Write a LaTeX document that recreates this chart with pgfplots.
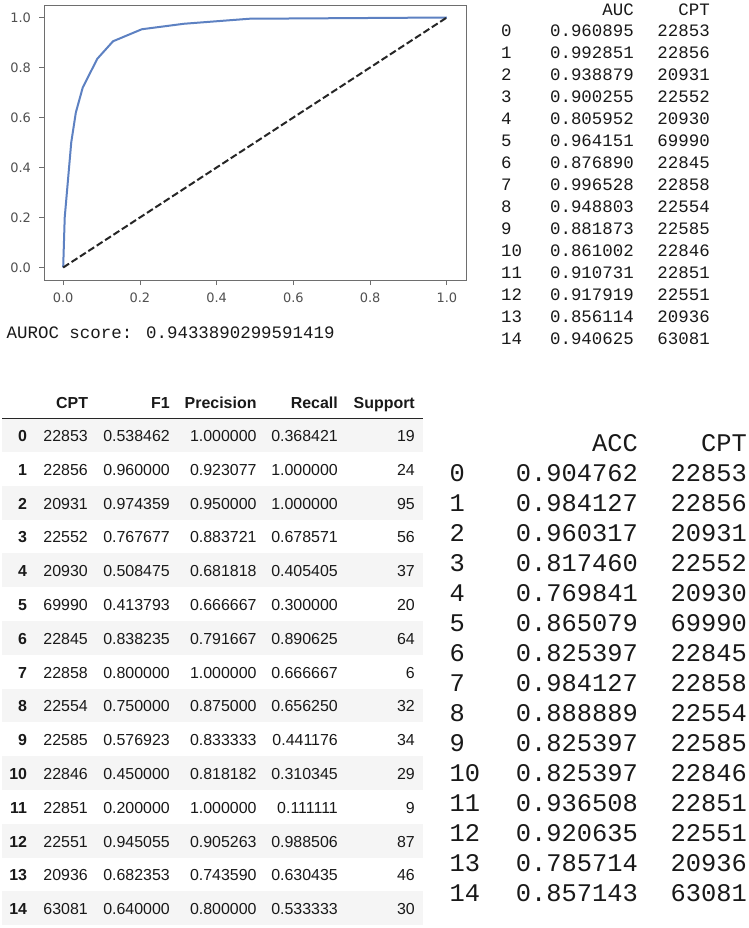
\documentclass[border=0pt]{standalone}
\usepackage{pgfplots}
\pgfplotsset{compat=1.18}
\usepackage{fontspec}
\setmainfont{Liberation Sans}
\newfontfamily\dejavu{DejaVu Sans}
\newfontfamily\mono{Liberation Mono}
\definecolor{roc}{RGB}{93,129,194}
\definecolor{tickgray}{RGB}{80,80,80}
\definecolor{framegray}{RGB}{110,110,110}
\definecolor{stripe}{RGB}{245,245,245}
\definecolor{txt}{RGB}{25,25,25}
\begin{document}
\begin{tikzpicture}
\path[use as bounding box, fill=white] (0,0) rectangle (749bp,-928bp);
\begin{axis}[at={(44bp,-280bp)}, anchor=south west, scale only axis,
  width=422bp, height=275bp,
  xmin=-0.05, xmax=1.05, ymin=-0.05, ymax=1.05,
  xtick={0,0.2,0.4,0.6,0.8,1}, ytick={0,0.2,0.4,0.6,0.8,1},
  xticklabels={0.0,0.2,0.4,0.6,0.8,1.0},
  yticklabels={0.0,0.2,0.4,0.6,0.8,1.0},
  tick align=outside, major tick length=5bp,
  tick style={framegray, line width=0.8bp},
  xtick pos=bottom, ytick pos=left,
  axis line style={framegray, line width=1bp},
  ticklabel style={font=\fontsize{13}{13}\selectfont\dejavu, text=tickgray},
  xticklabel style={yshift=-4.5bp},
  yticklabel style={xshift=-4.5bp},
  clip=false]
\addplot[roc, line width=2bp, line join=round] coordinates {
(0,0) (0.004,0.2) (0.021,0.5) (0.033,0.62) (0.051,0.72) (0.089,0.835) (0.13,0.905) (0.205,0.953) (0.315,0.975) (0.485,0.995) (1,1)};
\addplot[black!85, line width=2bp, dash pattern=on 7bp off 3bp] coordinates {(0,0) (1,1)};
\end{axis}
\begin{scope}[x=1bp,y=-1bp]
% AUROC text
\node[anchor=base west, inner sep=0, font=\fontsize{17.5}{17.5}\selectfont\mono, text=txt] at (6.5,338.3) {AUROC score: 0.9433890299591419};
% top-right table
\begin{scope}[every node/.style={inner sep=0, font=\fontsize{17.5}{17.5}\selectfont\mono, text=txt}]
\node[anchor=base east] at (634,15) {AUC};
\node[anchor=base east] at (710,15) {CPT};
\foreach \i/\a/\c in {0/0.960895/22853,1/0.992851/22856,2/0.938879/20931,3/0.900255/22552,4/0.805952/20930,5/0.964151/69990,6/0.876890/22845,7/0.996528/22858,8/0.948803/22554,9/0.881873/22585,10/0.861002/22846,11/0.910731/22851,12/0.917919/22551,13/0.856114/20936,14/0.940625/63081}{
  \node[anchor=base west] at (501,{36.7+22.02*\i}) {\i};
  \node[anchor=base east] at (634,{36.7+22.02*\i}) {\a};
  \node[anchor=base east] at (710,{36.7+22.02*\i}) {\c};
}
\end{scope}
% bottom-left table
\foreach \r in {0,2,...,14}{
  \fill[stripe] (2,{418.1+33.8*\r}) rectangle (423,{451.9+33.8*\r});
}
\draw[line width=1bp, black!85] (2,418.3) -- (423,418.3);
\begin{scope}[every node/.style={inner sep=0, font=\fontsize{16}{16}\selectfont, text=txt, anchor=base east}]
\node[font=\fontsize{16}{16}\selectfont\bfseries] at (88.3,408) {CPT};
\node[font=\fontsize{16}{16}\selectfont\bfseries] at (170,408) {F1};
\node[font=\fontsize{16}{16}\selectfont\bfseries] at (256.7,408) {Precision};
\node[font=\fontsize{16}{16}\selectfont\bfseries] at (338,408) {Recall};
\node[font=\fontsize{16}{16}\selectfont\bfseries] at (415,408) {Support};
\foreach \i/\c/\f/\p/\rr/\s in {0/22853/0.538462/1.000000/0.368421/19,1/22856/0.960000/0.923077/1.000000/24,2/20931/0.974359/0.950000/1.000000/95,3/22552/0.767677/0.883721/0.678571/56,4/20930/0.508475/0.681818/0.405405/37,5/69990/0.413793/0.666667/0.300000/20,6/22845/0.838235/0.791667/0.890625/64,7/22858/0.800000/1.000000/0.666667/6,8/22554/0.750000/0.875000/0.656250/32,9/22585/0.576923/0.833333/0.441176/34,10/22846/0.450000/0.818182/0.310345/29,11/22851/0.200000/1.000000/0.111111/9,12/22551/0.945055/0.905263/0.988506/87,13/20936/0.682353/0.743590/0.630435/46,14/63081/0.640000/0.800000/0.533333/30}{
  \node[font=\fontsize{16}{16}\selectfont\bfseries] at (27.2,{441.5+33.8*\i}) {\i};
  \node at (88,{441.5+33.8*\i}) {\c};
  \node at (170,{441.5+33.8*\i}) {\f};
  \node at (256.7,{441.5+33.8*\i}) {\p};
  \node at (338,{441.5+33.8*\i}) {\rr};
  \node at (415,{441.5+33.8*\i}) {\s};
}
\end{scope}
% bottom-right table
\begin{scope}[every node/.style={inner sep=0, font=\fontsize{25.5}{25.5}\selectfont\mono, text=txt}]
\node[anchor=base east] at (638,451.7) {ACC};
\node[anchor=base east] at (747,451.7) {CPT};
\foreach \i/\a/\c in {0/0.904762/22853,1/0.984127/22856,2/0.960317/20931,3/0.817460/22552,4/0.769841/20930,5/0.865079/69990,6/0.825397/22845,7/0.984127/22858,8/0.888889/22554,9/0.825397/22585,10/0.825397/22846,11/0.936508/22851,12/0.920635/22551,13/0.785714/20936,14/0.857143/63081}{
  \node[anchor=base west] at (449.5,{481.7+29.95*\i}) {\i};
  \node[anchor=base east] at (638,{481.7+29.95*\i}) {\a};
  \node[anchor=base east] at (747,{481.7+29.95*\i}) {\c};
}
\end{scope}
\end{scope}
\end{tikzpicture}
\end{document}
